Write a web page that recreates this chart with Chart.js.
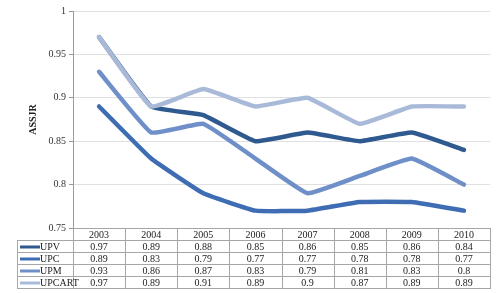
<!DOCTYPE html>
<html>
<head>
<meta charset="utf-8">
<script src="https://cdn.jsdelivr.net/npm/chart.js@4/dist/chart.umd.min.js"></script>
<style>
  body { margin: 0; background: #fff; }
  canvas { display: block; }
</style>
</head>
<body>
<canvas id="assjrChart" width="500" height="293"></canvas>
<script>
// years along the x axis
const years = ['2003', '2004', '2005', '2006', '2007', '2008', '2009', '2010'];

// ASSJR per university
const upv = [0.97, 0.89, 0.88, 0.85, 0.86, 0.85, 0.86, 0.84];
const upc = [0.89, 0.83, 0.79, 0.77, 0.77, 0.78, 0.78, 0.77];
const upm = [0.93, 0.86, 0.87, 0.83, 0.79, 0.81, 0.83, 0.8];
const upcart = [0.97, 0.89, 0.91, 0.89, 0.9, 0.87, 0.89, 0.89];

const serif = '"Liberation Serif", "Times New Roman", serif';

// data table under the plot, like the Excel one
const tablePlugin = {
  id: 'dataTable',
  afterDraw(chart) {
    const { ctx, chartArea } = chart;
    const x = chart.scales.x;
    const step = x.getPixelForValue(1) - x.getPixelForValue(0);
    const left = 17;
    const rowH = 12;
    const top = Math.round(chartArea.bottom);
    const sets = chart.data.datasets;
    const bottom = top + rowH * (sets.length + 1);

    ctx.save();
    ctx.strokeStyle = '#a6a6a6';
    ctx.lineWidth = 1;
    ctx.beginPath();
    for (let i = 0; i <= years.length; i++) {
      const xp = Math.round(chartArea.left + i * step) + 0.5;
      ctx.moveTo(xp, top);
      ctx.lineTo(xp, bottom);
    }
    ctx.moveTo(left + 0.5, top + rowH);
    ctx.lineTo(left + 0.5, bottom);
    for (let r = 1; r <= sets.length + 1; r++) {
      const yp = top + rowH * r + 0.5;
      ctx.moveTo(left, yp);
      ctx.lineTo(Math.round(chartArea.right) + 1, yp);
    }
    ctx.stroke();

    ctx.font = '10px ' + serif;
    ctx.textBaseline = 'middle';
    sets.forEach((ds, r) => {
      const cy = top + rowH * (r + 1) + rowH / 2 + 1;
      ctx.strokeStyle = ds.borderColor;
      ctx.lineWidth = 3;
      ctx.beginPath();
      ctx.moveTo(left + 3, cy);
      ctx.lineTo(left + 23, cy);
      ctx.stroke();

      ctx.fillStyle = '#222';
      ctx.textAlign = 'left';
      ctx.fillText(ds.label, left + 23, cy);
      ctx.textAlign = 'center';
      ds.data.forEach((v, i) => {
        ctx.fillText(String(v), x.getPixelForValue(i), cy);
      });
    });
    ctx.restore();
  }
};

const ctx = document.getElementById('assjrChart').getContext('2d');
new Chart(ctx, {
  type: 'line',
  data: {
    labels: years,
    datasets: [
      { label: 'UPV', data: upv, borderColor: '#2f5a8f', order: 3 },
      { label: 'UPC', data: upc, borderColor: '#3e6db3', order: 2 },
      { label: 'UPM', data: upm, borderColor: '#6f8fc8', order: 1 },
      { label: 'UPCART', data: upcart, borderColor: '#a9bad9', order: 0 }
    ]
  },
  options: {
    responsive: false,
    animation: false,
    events: [],
    elements: {
      line: { borderWidth: 4.5, tension: 0.1, borderCapStyle: 'round', borderJoinStyle: 'round' },
      point: { radius: 0 }
    },
    layout: { padding: { left: 0, right: 10, top: 11, bottom: 53 } },
    plugins: {
      legend: { display: false },
      tooltip: { enabled: false }
    },
    scales: {
      x: {
        offset: true,
        grid: { display: false, drawTicks: false },
        border: { display: true, color: '#a6a6a6' },
        ticks: { padding: 1, color: '#222', font: { family: serif, size: 10 } },
        afterFit(scale) { scale.height = 12; }
      },
      y: {
        min: 0.75,
        max: 1,
        grid: { color: '#e0e0e0', tickLength: 4, tickColor: '#999' },
        border: { display: true, color: '#999' },
        ticks: {
          stepSize: 0.05,
          padding: 3,
          color: '#333',
          font: { family: serif, size: 10 },
          callback: v => +v.toFixed(2)
        },
        title: {
          display: true,
          text: 'ASSJR',
          color: '#222',
          font: { family: serif, size: 10, weight: 'bold' },
          padding: { top: 27, bottom: 0 }
        },
        afterFit(scale) { scale.width = 73; }
      }
    }
  },
  plugins: [tablePlugin]
});
</script>
</body>
</html>
